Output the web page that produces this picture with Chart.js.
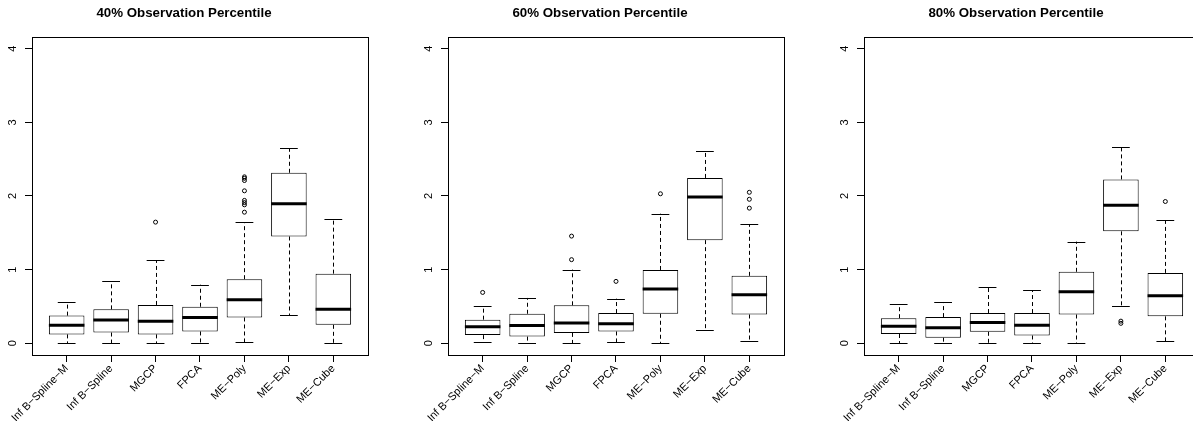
<!DOCTYPE html>
<html>
<head>
<meta charset="utf-8">
<script src="https://cdn.jsdelivr.net/npm/chart.js@4/dist/chart.umd.min.js"></script>
<style>
  html, body { margin: 0; padding: 0; background: #fff; overflow: hidden; }
  #wrap { position: relative; width: 1193px; height: 421px; overflow: hidden; }
  canvas { position: absolute; top: 0; }
</style>
</head>
<body>
<div id="wrap">
  <canvas id="p40" width="416" height="421" style="left:0px"></canvas>
  <canvas id="p60" width="416" height="421" style="left:416px"></canvas>
  <canvas id="p80" width="416" height="421" style="left:832px"></canvas>
</div>
<script>
// categories and ticks
const categories = ['Inf B\u2212Spline\u2212M', 'Inf B\u2212Spline', 'MGCP', 'FPCA', 'ME\u2212Poly', 'ME\u2212Exp', 'ME\u2212Cube'];
const yTicks = [0, 1, 2, 3, 4];
const titles = ['40% Observation Percentile', '60% Observation Percentile', '80% Observation Percentile'];

// 40% panel
const lower40  = [0.00, 0.00, 0.00, 0.00, 0.01, 0.38, 0.00];
const q1_40    = [0.12, 0.145, 0.12, 0.16, 0.35, 1.45, 0.25];
const median40 = [0.245, 0.315, 0.30, 0.35, 0.59, 1.895, 0.46];
const q3_40    = [0.375, 0.46, 0.52, 0.495, 0.87, 2.315, 0.945];
const upper40  = [0.56, 0.84, 1.13, 0.795, 1.64, 2.645, 1.685];
const outliers40 = [[], [], [1.645], [], [2.26, 2.24, 2.21, 2.07, 1.94, 1.91, 1.88, 1.78], [], []];

// 60% panel
const lower60  = [0.01, 0.00, 0.00, 0.01, 0.00, 0.18, 0.03];
const q1_60    = [0.11, 0.09, 0.14, 0.16, 0.40, 1.40, 0.39];
const median60 = [0.225, 0.24, 0.275, 0.265, 0.735, 1.985, 0.66];
const q3_60    = [0.32, 0.40, 0.515, 0.41, 0.995, 2.245, 0.915];
const upper60  = [0.50, 0.615, 1.00, 0.605, 1.76, 2.61, 1.615];
const outliers60 = [[0.69], [], [1.455, 1.135], [0.84], [2.03], [], [2.05, 1.955, 1.835]];

// 80% panel
const lower80  = [0.00, 0.00, 0.00, 0.00, 0.00, 0.505, 0.025];
const q1_80    = [0.125, 0.075, 0.155, 0.105, 0.39, 1.52, 0.365];
const median80 = [0.23, 0.21, 0.28, 0.245, 0.70, 1.875, 0.645];
const q3_80    = [0.34, 0.355, 0.41, 0.41, 0.97, 2.225, 0.955];
const upper80  = [0.53, 0.56, 0.765, 0.72, 1.38, 2.665, 1.67];
const outliers80 = [[], [], [], [], [], [0.30, 0.27], [1.925]];

const FONT = '"Liberation Sans", Arial, Helvetica, sans-serif';

// whiskers, staples, medians and the frame, drawn with the chart's scales
function boxLines(lower, median, upper, q1, q3) {
    return {
        id: 'boxLines',
        afterDatasetsDraw(chart) {
            const ctx = chart.ctx;
            const x = chart.scales.x, y = chart.scales.y;
            ctx.save();
            ctx.strokeStyle = '#000';
            ctx.lineWidth = 1;
            ctx.setLineDash([4, 3]);
            categories.forEach((c, i) => {
                const px = Math.round(x.getPixelForValue(i + 1)) + 0.5;
                ctx.beginPath();
                ctx.moveTo(px, y.getPixelForValue(q3[i]));
                ctx.lineTo(px, y.getPixelForValue(upper[i]));
                ctx.moveTo(px, y.getPixelForValue(q1[i]));
                ctx.lineTo(px, y.getPixelForValue(lower[i]));
                ctx.stroke();
            });
            ctx.setLineDash([]);
            categories.forEach((c, i) => {
                const xa = x.getPixelForValue(i + 1 - 0.2), xb = x.getPixelForValue(i + 1 + 0.2);
                [upper[i], lower[i]].forEach(v => {
                    const py = Math.round(y.getPixelForValue(v)) + 0.5;
                    ctx.beginPath();
                    ctx.moveTo(xa, py);
                    ctx.lineTo(xb, py);
                    ctx.stroke();
                });
                ctx.lineWidth = 3;
                ctx.beginPath();
                const pm = y.getPixelForValue(median[i]);
                ctx.moveTo(x.getPixelForValue(i + 1 - 0.4), pm);
                ctx.lineTo(x.getPixelForValue(i + 1 + 0.4), pm);
                ctx.stroke();
                ctx.lineWidth = 1;
            });
            ctx.restore();
        },
        afterDraw(chart) {
            const a = chart.chartArea, ctx = chart.ctx;
            ctx.save();
            ctx.strokeStyle = '#000';
            ctx.lineWidth = 1;
            ctx.strokeRect(Math.round(a.left) + 0.5, Math.round(a.top) + 0.5,
                Math.round(a.right - a.left), Math.round(a.bottom - a.top));
            ctx.restore();
        }
    };
}

function makePanel(id, title, lower, q1, median, q3, upper, outliers) {
    const boxes = categories.map((c, i) => ({ x: i + 1, y: [q1[i], q3[i]] }));
    const points = [];
    outliers.forEach((list, i) => list.forEach(v => points.push({ x: i + 1, y: v })));

    new Chart(document.getElementById(id).getContext('2d'), {
        type: 'bar',
        data: {
            datasets: [{
                type: 'bar',
                data: boxes,
                backgroundColor: '#fff',
                borderColor: '#000',
                borderWidth: 1,
                borderSkipped: false,
                barPercentage: 0.8,
                categoryPercentage: 1
            }, {
                type: 'scatter',
                data: points,
                pointStyle: 'circle',
                pointRadius: 2,
                pointBorderWidth: 1,
                pointBorderColor: '#000',
                pointBackgroundColor: 'rgba(0,0,0,0)'
            }]
        },
        options: {
            responsive: false,
            animation: false,
            devicePixelRatio: 1,
            layout: { padding: { left: 0, right: 48, top: 0, bottom: 0 } },
            plugins: {
                legend: { display: false },
                tooltip: { enabled: false },
                title: {
                    display: true,
                    text: title,
                    color: '#000',
                    font: { family: FONT, size: 13.3, weight: 'bold' },
                    padding: { top: 5, bottom: 16 }
                }
            },
            scales: {
                x: {
                    type: 'linear',
                    min: 0.22,
                    max: 7.78,
                    offset: false,
                    afterBuildTicks: s => { s.ticks = categories.map((c, i) => ({ value: i + 1 })); },
                    afterFit: s => { s.height = 66; },
                    grid: { offset: false, drawOnChartArea: false, drawTicks: true, tickLength: 7, color: '#000', lineWidth: 1 },
                    border: { display: false },
                    ticks: {
                        autoSkip: false,
                        minRotation: 45,
                        maxRotation: 45,
                        padding: 0,
                        color: '#000',
                        font: { family: FONT, size: 11 },
                        callback: v => categories[Math.round(v) - 1]
                    }
                },
                y: {
                    type: 'linear',
                    min: -0.16,
                    max: 4.16,
                    afterBuildTicks: s => { s.ticks = yTicks.map(v => ({ value: v })); },
                    afterFit: s => { s.width = 32; },
                    grid: { drawOnChartArea: false, drawTicks: true, tickLength: 7, color: '#000', lineWidth: 1 },
                    border: { display: false },
                    ticks: {
                        minRotation: 90,
                        maxRotation: 90,
                        crossAlign: 'center',
                        padding: 9,
                        color: '#000',
                        font: { family: FONT, size: 11 }
                    }
                }
            }
        },
        plugins: [boxLines(lower, median, upper, q1, q3)]
    });
}

makePanel('p40', titles[0], lower40, q1_40, median40, q3_40, upper40, outliers40);
makePanel('p60', titles[1], lower60, q1_60, median60, q3_60, upper60, outliers60);
makePanel('p80', titles[2], lower80, q1_80, median80, q3_80, upper80, outliers80);
</script>
</body>
</html>
